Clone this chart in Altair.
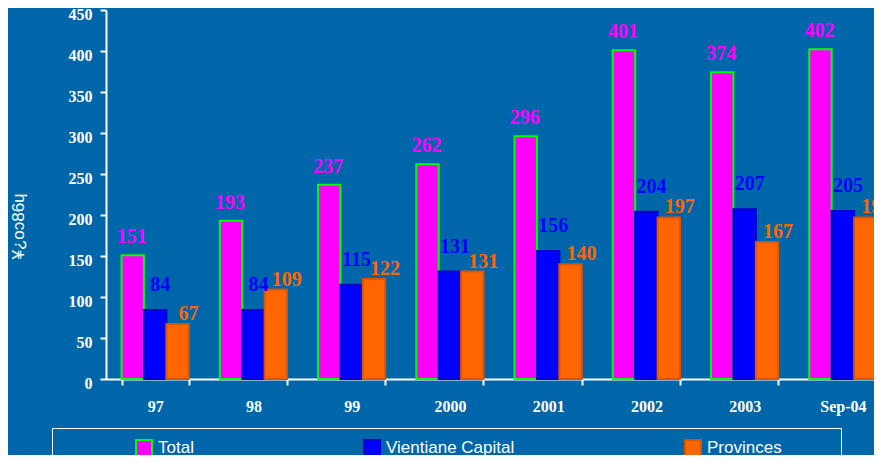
import altair as alt
import pandas as pd

categories = ["97", "98", "99", "2000", "2001", "2002", "2003", "Sep-04"]
series = ["Total", "Vientiane Capital", "Provinces"]
total = [151, 193, 237, 262, 296, 401, 374, 402]
vientiane = [84, 84, 115, 131, 156, 204, 207, 205]
provinces = [67, 109, 122, 131, 140, 197, 167, 197]
y_ticks = [0, 50, 100, 150, 200, 250, 300, 350, 400, 450]
y_title = "¥¿oɔ86ɥ"

fills = ["#FF00FF", "#0000FF", "#FF6600"]
strokes = ["#00FF00", "#0000CC", "#D95500"]
BG = "#0066AA"
NB = "\u00a0"
BLANK = "\u2800"

rows = []
for s, vals in zip(series, [total, vientiane, provinces]):
    for c, v in zip(categories, vals):
        rows.append({"period": c, "series": s, "value": v})
df = pd.DataFrame(rows)

x_enc = alt.X(
    "period:N", sort=categories,
    scale=alt.Scale(paddingInner=0.316, paddingOuter=0.158, range=[0, 786]),
    axis=alt.Axis(title=None, labelAngle=0, tickBand="extent",
                  domainColor="white", domainWidth=2, tickColor="white",
                  tickWidth=2, tickSize=6, labelColor="white",
                  labelFont="Liberation Serif", labelFontWeight="bold",
                  labelFontSize=16, labelPadding=13),
)
xo_enc = alt.XOffset("series:N", sort=series,
                     scale=alt.Scale(domain=series, paddingInner=0, paddingOuter=0))
y_enc = alt.Y(
    "value:Q", scale=alt.Scale(domain=[0, 450], nice=False),
    axis=alt.Axis(values=y_ticks, grid=False, domainColor="white", domainWidth=2,
                  tickColor="white", tickWidth=2, tickSize=6, labelColor="white",
                  labelFont="Liberation Serif", labelFontWeight="bold",
                  labelFontSize=16, labelPadding=8, labelOffset=4,
                  title=y_title, titleColor="white", titleFont="Liberation Sans",
                  titleFontWeight="normal", titleFontSize=17, titleX=-88, titleY=216,
                  titleAngle=270, titleBaseline="middle", titleAlign="center"),
)

legend = alt.Legend(
    orient="none", legendX=-54, legendY=418,
    direction="horizontal", columns=3, gridAlign="each",
    columnPadding=166, padding=11, strokeColor="white",
    title=NB, titleOrient="left", titleFontSize=1, titlePadding=72,
    symbolType="square", symbolSize=256, symbolStrokeWidth=2,
    labelFont="Liberation Sans", labelFontSize=17,
    labelColor="white", labelOffset=5, labelLimit=400,
    labelExpr="datum.value == 'Provinces' ? 'Provinces" + BLANK * 4 + "' : datum.label",
)

bars = alt.Chart(df).mark_bar(strokeWidth=2).encode(
    x=x_enc, xOffset=xo_enc, y=y_enc,
    color=alt.Color("series:N", sort=series,
                    scale=alt.Scale(domain=series, range=fills), legend=legend),
    stroke=alt.Stroke("series:N", sort=series,
                      scale=alt.Scale(domain=series, range=strokes), legend=legend),
)

label_dx = [-1, 5, 11]
label_dy = [-12, -19, -4]
texts = []
for s, col, dx, dy in zip(series, fills, label_dx, label_dy):
    texts.append(
        alt.Chart(df).transform_filter(alt.datum.series == s).mark_text(
            dx=dx, dy=dy, baseline="alphabetic", align="center",
            font="Liberation Serif", fontWeight="bold", fontSize=20, color=col,
        ).encode(x=x_enc, xOffset=xo_enc, y=y_enc, text="value:Q")
    )

chart = alt.layer(bars, *texts).properties(
    width=768, height=369,
    autosize=alt.AutoSizeParams(type="none"),
    padding={"left": 98, "top": 2, "right": 0, "bottom": 76},
).configure(background=BG).configure_view(stroke=None)

chart.save("out.html", embed_options={"renderer": "svg", "actions": False})
